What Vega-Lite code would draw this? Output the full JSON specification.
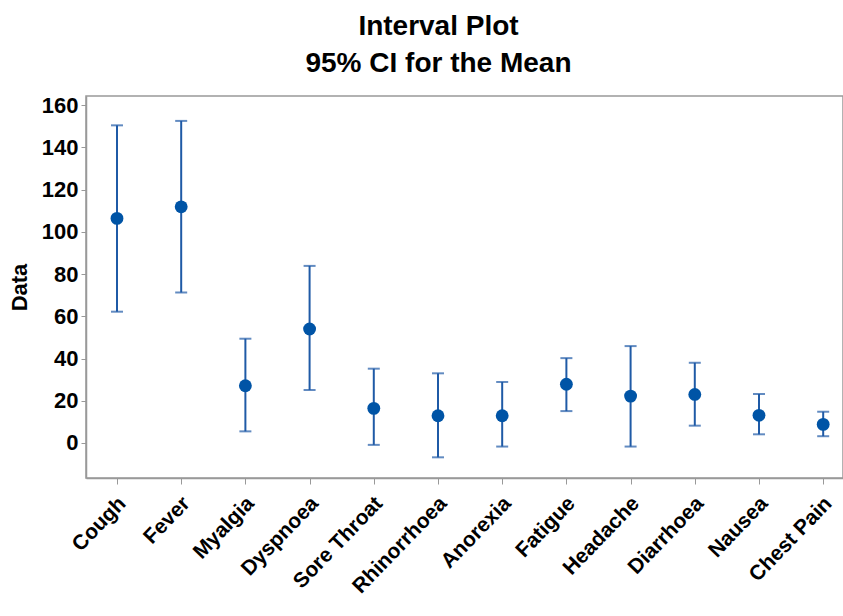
{
  "$schema": "https://vega.github.io/schema/vega-lite/v6.json",
  "width": 757,
  "height": 382,
  "autosize": {"type": "none"},
  "padding": {"left": 86, "top": 96, "right": 0, "bottom": 138},
  "background": "white",
  "config": {
    "view": {"stroke": "#999999", "strokeWidth": 1.5},
    "font": "Liberation Sans"
  },
  "title": {
    "text": ["Interval Plot", "95% CI for the Mean"],
    "fontSize": 28,
    "lineHeight": 37,
    "font": "Liberation Sans",
    "fontWeight": "bold",
    "color": "black",
    "anchor": "middle",
    "dx": -26,
    "offset": 16
  },
  "data": {
    "values": [
      {"symptom": "Cough", "mean": 106.4, "lower": 62.2, "upper": 150.5},
      {"symptom": "Fever", "mean": 111.9, "lower": 71.3, "upper": 152.6},
      {"symptom": "Myalgia", "mean": 27.1, "lower": 5.5, "upper": 49.4},
      {"symptom": "Dyspnoea", "mean": 54.0, "lower": 25.1, "upper": 83.9},
      {"symptom": "Sore Throat", "mean": 16.4, "lower": -0.9, "upper": 35.2},
      {"symptom": "Rhinorrhoea", "mean": 12.9, "lower": -6.8, "upper": 33.0},
      {"symptom": "Anorexia", "mean": 12.9, "lower": -1.7, "upper": 28.9},
      {"symptom": "Fatigue", "mean": 27.8, "lower": 15.1, "upper": 40.2},
      {"symptom": "Headache", "mean": 22.2, "lower": -1.7, "upper": 45.9},
      {"symptom": "Diarrhoea", "mean": 23.0, "lower": 8.2, "upper": 38.0},
      {"symptom": "Nausea", "mean": 13.1, "lower": 4.1, "upper": 23.2},
      {"symptom": "Chest Pain", "mean": 8.8, "lower": 3.2, "upper": 14.8}
    ]
  },
  "encoding": {
    "x": {
      "field": "symptom",
      "type": "nominal",
      "sort": null,
      "scale": {"type": "point", "padding": 0.3956, "align": 0.61},
      "axis": {
        "title": null,
        "labelAngle": -46,
        "labelAlign": "right",
        "labelBaseline": "middle",
        "labelFont": "Liberation Sans",
        "labelFontSize": 21,
        "labelFontWeight": "bold",
        "labelColor": "black",
        "labelPadding": 16,
        "labelOffset": 5,
        "domainColor": "#999999",
        "domainWidth": 1.5,
        "tickColor": "#999999",
        "tickSize": 6,
        "grid": false
      }
    }
  },
  "layer": [
    {
      "mark": {"type": "rule", "color": "#1F5AA6", "strokeWidth": 2},
      "encoding": {
        "y": {
          "field": "lower",
          "type": "quantitative",
          "scale": {"domain": [-16.6, 164.4], "nice": false, "zero": false},
          "axis": {
            "title": "Data",
            "titleFont": "Liberation Sans",
            "titleFontSize": 22,
            "titleFontWeight": "bold",
            "titleColor": "black",
            "titlePadding": 10,
            "values": [0, 20, 40, 60, 80, 100, 120, 140, 160],
            "labelFont": "Liberation Sans",
            "labelFontSize": 22,
            "labelFontWeight": "bold",
            "labelColor": "black",
            "labelPadding": 3,
            "domainColor": "#999999",
            "domainWidth": 1.5,
            "tickColor": "#999999",
            "tickSize": 5,
            "grid": false
          }
        },
        "y2": {"field": "upper"}
      }
    },
    {
      "mark": {"type": "tick", "color": "#1F5AA6", "thickness": 2, "size": 12, "orient": "horizontal"},
      "encoding": {"y": {"field": "lower", "type": "quantitative"}}
    },
    {
      "mark": {"type": "tick", "color": "#1F5AA6", "thickness": 2, "size": 12, "orient": "horizontal"},
      "encoding": {"y": {"field": "upper", "type": "quantitative"}}
    },
    {
      "mark": {"type": "point", "filled": true, "color": "#0054A6", "size": 165, "opacity": 1},
      "encoding": {"y": {"field": "mean", "type": "quantitative"}}
    }
  ]
}
